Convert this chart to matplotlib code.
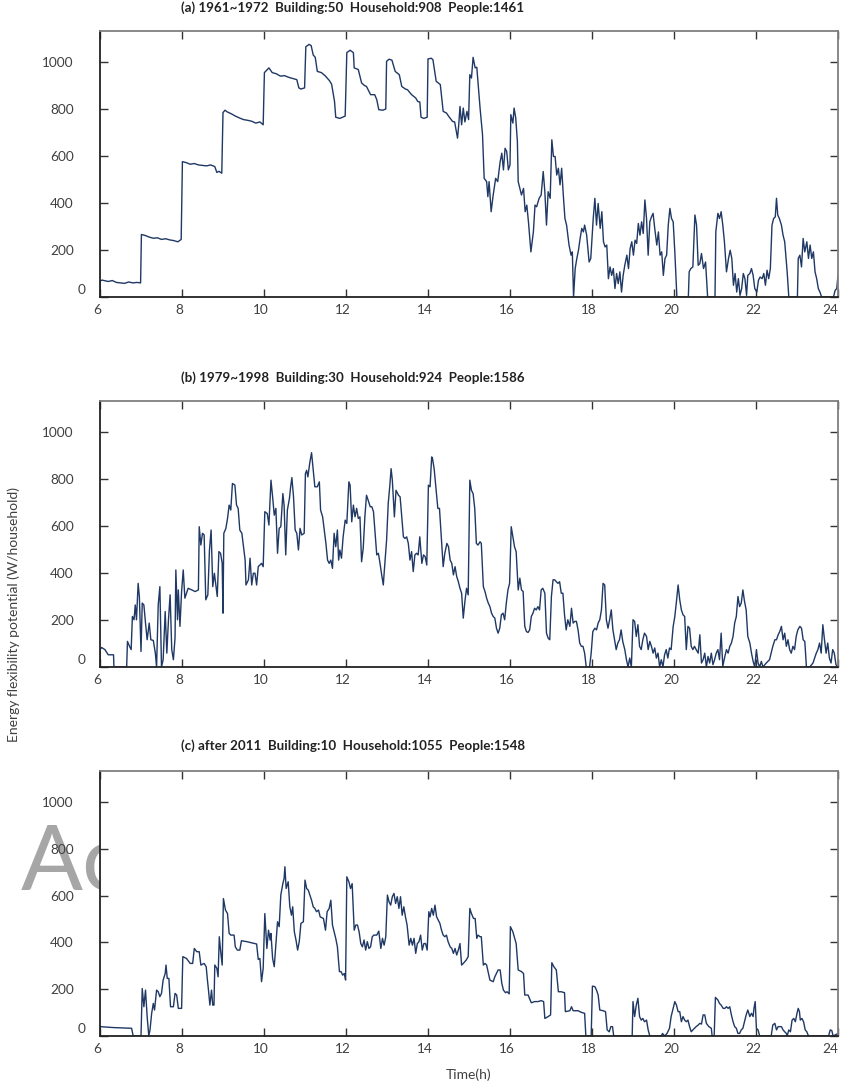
import matplotlib
matplotlib.use('Agg')
import matplotlib.pyplot as plt
from matplotlib.transforms import ScaledTranslation

# ---------------- data ----------------
titles = ['(a) 1961~1972  Building:50  Household:908  People:1461',
          '(b) 1979~1998  Building:30  Household:924  People:1586',
          '(c) after 2011  Building:10  Household:1055  People:1548']

hours_a = [6.0, 6.0, 6.05, 6.1, 6.2, 6.3, 6.4, 6.5, 6.6, 6.7, 6.8, 6.9, 6.99,
           7.01, 7.1, 7.2, 7.3, 7.4, 7.5, 7.6, 7.7, 7.8, 7.9, 7.98,
           8.01, 8.1, 8.2, 8.3, 8.4, 8.5, 8.6, 8.7, 8.8, 8.85, 8.9, 8.97,
           9.0, 9.05, 9.1, 9.2, 9.3, 9.4, 9.5, 9.6, 9.7, 9.8, 9.9, 9.98,
           10.01, 10.08, 10.12, 10.2, 10.3, 10.4, 10.5, 10.6, 10.7, 10.8, 10.85, 10.9, 10.99,
           11.02, 11.1, 11.15, 11.2, 11.25, 11.3, 11.4, 11.5, 11.6, 11.65, 11.72, 11.75, 11.85, 11.98,
           12.02, 12.1, 12.18, 12.2, 12.3, 12.38, 12.45, 12.5, 12.6, 12.7, 12.75, 12.8, 12.9, 12.97,
           12.99, 13.05, 13.12, 13.2, 13.3, 13.36, 13.45, 13.5, 13.6, 13.7, 13.75, 13.8, 13.83, 13.9, 13.98,
           14.0, 14.08, 14.12, 14.2, 14.3, 14.37, 14.45, 14.5, 14.6, 14.65, 14.72, 14.75, 14.78, 14.82, 14.86, 14.9, 14.95, 14.99,
           15.02, 15.06, 15.1, 15.15, 15.19, 15.23, 15.27, 15.33, 15.37, 15.43, 15.46, 15.49, 15.54, 15.59, 15.65, 15.7, 15.76, 15.8, 15.84, 15.88, 15.92, 15.96, 16.0,
           16.02, 16.07, 16.1, 16.14, 16.18, 16.2, 16.24, 16.28, 16.33, 16.37, 16.41, 16.45, 16.51, 16.57, 16.61, 16.65, 16.71, 16.76, 16.81, 16.85, 16.89, 16.93, 16.98,
           17.02, 17.06, 17.1, 17.14, 17.18, 17.22, 17.26, 17.3, 17.34, 17.38, 17.44, 17.49, 17.52, 17.55, 17.59, 17.63, 17.67, 17.71, 17.75, 17.79, 17.82, 17.87, 17.93, 17.97,
           18.03, 18.07, 18.11, 18.15, 18.2, 18.24, 18.28, 18.32, 18.36, 18.4, 18.44, 18.48, 18.52, 18.56, 18.6, 18.64, 18.68, 18.72, 18.76, 18.8, 18.85, 18.89, 18.93, 18.97,
           19.01, 19.05, 19.09, 19.13, 19.17, 19.21, 19.25, 19.29, 19.33, 19.37, 19.41, 19.45, 19.49, 19.53, 19.58, 19.62, 19.66, 19.7, 19.74, 19.78, 19.82, 19.86, 19.9, 19.94, 19.98,
           20.02, 20.07, 20.35, 20.37, 20.41, 20.46, 20.51, 20.55, 20.59, 20.63, 20.67, 20.72, 20.77, 20.82, 21.0,
           21.02, 21.07, 21.11, 21.15, 21.19, 21.23, 21.28, 21.33, 21.37, 21.41, 21.45, 21.49, 21.53, 21.57, 21.61, 21.65, 21.69, 21.73, 21.77, 21.8, 21.85, 21.89, 21.93, 21.97,
           22.02, 22.06, 22.1, 22.15, 22.19, 22.23, 22.27, 22.31, 22.35, 22.39, 22.43, 22.47, 22.5, 22.53, 22.57, 22.62, 22.66, 22.7, 22.76, 22.8, 23.01,
           23.03, 23.07, 23.11, 23.15, 23.19, 23.24, 23.28, 23.32, 23.36, 23.4, 23.44, 23.48, 23.52, 23.56, 23.6, 23.89, 23.93, 23.97, 24.0]
power_a = [30, 68, 72, 70, 66, 70, 62, 60, 58, 64, 60, 62, 60,
           266, 262, 255, 250, 252, 245, 248, 243, 240, 235, 245,
           576, 572, 565, 568, 562, 560, 558, 562, 555, 530, 535, 527,
           785, 795, 788, 780, 770, 762, 755, 752, 748, 740, 745, 733,
           955, 968, 975, 955, 950, 940, 942, 935, 930, 925, 890, 885, 890,
           1065, 1075, 1070, 1030, 1020, 960, 955, 940, 920, 905, 832, 765, 760, 770,
           1040, 1050, 1040, 975, 968, 911, 900, 896, 861, 861, 840, 797, 795, 800,
           1003, 1012, 1008, 960, 946, 896, 885, 882, 861, 847, 832, 830, 765, 760, 765,
           1013, 1016, 1010, 918, 904, 790, 783, 770, 747, 745, 676, 733, 811, 733, 804, 745, 790, 755,
           946, 932, 1020, 975, 978, 889, 804, 690, 505, 491, 427, 491, 363, 434, 505, 491, 576, 612, 541, 633, 619, 541, 562,
           776, 740, 804, 761, 662, 491, 462, 434, 462, 363, 391, 320, 192, 277, 391, 384, 420, 434, 534, 448, 306, 448, 420,
           669, 598, 598, 519, 548, 477, 548, 434, 334, 306, 221, 178, 192, 0, 121, 164, 199, 249, 292, 277, 306, 263, 149, 164,
           334, 420, 306, 398, 292, 363, 235, 213, 221, 78, 128, 92, 121, 36, 100, 57, 107, 21, 92, 135, 178, 121, 206, 235,
           178, 242, 228, 313, 263, 320, 270, 413, 334, 178, 320, 341, 356, 292, 221, 277, 178, 192, 92, 164, 178, 306, 377, 334, 320,
           192, 0, 0, 107, 121, 128, 349, 306, 135, 142, 185, 121, 149, 0, 0,
           277, 356, 334, 363, 306, 235, 107, 164, 199, 164, 50, 100, 21, 78, 7, 36, 100, 78, 7, 92, 100, 121, 92, 36,
           21, 71, 85, 78, 100, 50, 114, 78, 121, 306, 334, 341, 420, 349, 334, 306, 263, 235, 107, 0, 0,
           164, 178, 128, 249, 192, 235, 164, 221, 164, 192, 107, 78, 36, 21, 0, 0, 28, 36, 92]

hours_b = [6.0, 6.0, 6.04, 6.12, 6.2, 6.33, 6.34, 6.65, 6.67, 6.72, 6.76, 6.79, 6.83, 6.86, 6.89, 6.93, 6.96, 7.0,
           7.03, 7.07, 7.11, 7.15, 7.2, 7.24, 7.3, 7.35, 7.38, 7.42, 7.46, 7.5, 7.54, 7.59, 7.63, 7.67, 7.71, 7.75, 7.79, 7.83, 7.85, 7.89, 7.91, 7.95, 7.99,
           8.03, 8.07, 8.15, 8.24, 8.32, 8.4, 8.42, 8.46, 8.5, 8.54, 8.58, 8.63, 8.67, 8.71, 8.75, 8.79, 8.83, 8.86, 8.9, 8.94, 8.98,
           9.0, 9.02, 9.07, 9.11, 9.15, 9.19, 9.23, 9.29, 9.33, 9.37, 9.41, 9.46, 9.5, 9.54, 9.56, 9.62, 9.66, 9.7, 9.74, 9.78, 9.82, 9.86, 9.9, 9.94, 9.98,
           10.02, 10.08, 10.12, 10.17, 10.21, 10.25, 10.29, 10.33, 10.37, 10.41, 10.46, 10.49, 10.53, 10.57, 10.62, 10.65, 10.68, 10.72, 10.76, 10.8, 10.84, 10.88, 10.92, 10.98,
           11.01, 11.04, 11.07, 11.12, 11.16, 11.2, 11.24, 11.3, 11.35, 11.38, 11.43, 11.47, 11.51, 11.55, 11.59, 11.63, 11.67, 11.71, 11.75, 11.79, 11.82, 11.85, 11.89, 11.93, 11.98,
           12.02, 12.07, 12.1, 12.14, 12.18, 12.22, 12.26, 12.3, 12.34, 12.38, 12.42, 12.46, 12.5, 12.54, 12.59, 12.63, 12.67, 12.71, 12.75, 12.79, 12.83, 12.87, 12.91, 12.93, 12.99,
           13.03, 13.07, 13.1, 13.13, 13.18, 13.22, 13.28, 13.32, 13.36, 13.4, 13.44, 13.48, 13.52, 13.56, 13.6, 13.64, 13.68, 13.72, 13.76, 13.8, 13.85, 13.89, 13.93, 13.97,
           14.01, 14.05, 14.09, 14.11, 14.15, 14.2, 14.24, 14.28, 14.33, 14.37, 14.41, 14.46, 14.5, 14.54, 14.58, 14.62, 14.66, 14.7, 14.74, 14.78, 14.82, 14.86, 14.9, 14.94, 14.98,
           15.02, 15.06, 15.1, 15.14, 15.18, 15.22, 15.27, 15.3, 15.35, 15.39, 15.43, 15.47, 15.51, 15.55, 15.59, 15.63, 15.67, 15.71, 15.75, 15.79, 15.83, 15.87, 15.91, 15.95, 15.99,
           16.03, 16.07, 16.11, 16.15, 16.2, 16.24, 16.28, 16.32, 16.36, 16.4, 16.44, 16.48, 16.52, 16.56, 16.6, 16.64, 16.68, 16.72, 16.76, 16.8, 16.85, 16.89, 16.93, 16.97,
           17.01, 17.05, 17.09, 17.13, 17.17, 17.21, 17.25, 17.29, 17.33, 17.37, 17.41, 17.46, 17.5, 17.54, 17.58, 17.62, 17.66, 17.7, 17.74, 17.78, 17.82, 17.86, 17.94, 17.98,
           18.02, 18.07, 18.11, 18.15, 18.19, 18.23, 18.27, 18.31, 18.35, 18.39, 18.43, 18.47, 18.51, 18.55, 18.59, 18.63, 18.67, 18.71, 18.75, 18.8, 18.84, 18.88, 18.92, 18.96,
           19.0, 19.04, 19.08, 19.12, 19.16, 19.2, 19.24, 19.28, 19.33, 19.37, 19.41, 19.45, 19.49, 19.53, 19.57, 19.61, 19.65, 19.69, 19.73, 19.77, 19.81, 19.85, 19.89, 19.93, 19.98,
           20.02, 20.06, 20.1, 20.14, 20.18, 20.22, 20.26, 20.3, 20.34, 20.38, 20.42, 20.46, 20.5, 20.54, 20.59, 20.63, 20.67, 20.71, 20.75, 20.79, 20.83, 20.87, 20.91, 20.95, 20.99,
           21.03, 21.07, 21.11, 21.15, 21.19, 21.24, 21.28, 21.32, 21.36, 21.4, 21.44, 21.48, 21.52, 21.56, 21.6, 21.64, 21.68, 21.72, 21.76, 21.8, 21.85, 21.89, 21.93, 21.97,
           22.01, 22.05, 22.09, 22.13, 22.17, 22.25, 22.33, 22.37, 22.41, 22.46, 22.5, 22.54, 22.58, 22.62, 22.66, 22.7, 22.74, 22.78, 22.82, 22.86, 22.9, 22.94, 22.98,
           23.02, 23.07, 23.11, 23.15, 23.19, 23.23, 23.31, 23.39, 23.43, 23.47, 23.51, 23.55, 23.59, 23.63, 23.67, 23.71, 23.75, 23.79, 23.83, 23.87, 23.91, 23.95, 24.0]
power_b = [0, 74, 83, 74, 52, 52, 0, 0, 109, 88, 74, 215, 201, 264, 201, 356, 300, 66,
           272, 264, 187, 116, 187, 116, 113, 59, 0, 264, 342, 0, 31, 236, 59, 201, 307, 74, 31, 123, 413, 201, 328, 173, 321,
           413, 293, 335, 328, 321, 328, 597, 519, 569, 562, 286, 307, 498, 583, 342, 399, 342, 300, 491, 484, 441,
           229, 569, 590, 632, 689, 668, 781, 774, 689, 675, 583, 569, 512, 455, 349, 371, 463, 349, 399, 399, 349, 427, 434, 441, 427,
           661, 653, 604, 795, 724, 646, 675, 484, 590, 597, 738, 689, 477, 668, 717, 767, 806, 724, 583, 569, 498, 590, 562, 569,
           823, 837, 809, 873, 912, 837, 767, 767, 788, 668, 639, 583, 526, 455, 441, 455, 420, 569, 512, 583, 455, 498, 463, 554, 625,
           611, 788, 774, 618, 689, 639, 675, 632, 639, 448, 505, 639, 731, 710, 682, 682, 661, 569, 477, 484, 441, 392, 349, 399, 540,
           696, 774, 844, 795, 639, 752, 731, 724, 639, 554, 547, 554, 526, 455, 491, 406, 477, 484, 477, 554, 441, 477, 470, 434,
           774, 767, 894, 887, 844, 752, 675, 675, 533, 427, 484, 526, 512, 455, 441, 392, 427, 385, 363, 335, 314, 208, 279, 335, 307,
           795, 752, 738, 675, 526, 519, 533, 526, 342, 321, 293, 272, 257, 229, 215, 208, 165, 144, 165, 222, 229, 201, 272, 328, 356,
           597, 554, 512, 491, 328, 378, 328, 321, 173, 151, 147, 158, 215, 229, 250, 243, 257, 243, 328, 335, 314, 144, 123, 116,
           300, 371, 371, 363, 356, 363, 314, 314, 222, 158, 201, 173, 250, 187, 194, 194, 158, 102, 88, 88, 59, 0, 0, 59,
           151, 165, 158, 187, 201, 243, 356, 349, 201, 165, 201, 243, 158, 116, 74, 102, 116, 158, 109, 74, 31, 0, 38, 0,
           201, 194, 130, 180, 88, 74, 116, 144, 130, 74, 109, 88, 59, 81, 38, 59, 0, 31, 0, 52, 74, 38, 81, 74, 173,
           215, 279, 349, 286, 243, 222, 215, 74, 173, 165, 88, 74, 88, 74, 59, 137, 17, 31, 59, 0, 45, 17, 59, 10, 31,
           59, 74, 31, 144, 3, 45, 74, 59, 88, 102, 130, 187, 215, 300, 257, 272, 328, 279, 243, 130, 102, 59, 24, 0,
           74, 17, 0, 24, 0, 17, 31, 59, 88, 116, 116, 137, 151, 173, 116, 144, 88, 116, 74, 59, 88, 74, 130,
           158, 173, 165, 116, 109, 0, 0, 17, 38, 59, 74, 102, 59, 180, 116, 59, 102, 38, 17, 74, 59, 10, 0]

hours_c = [6.0, 6.0, 6.33, 6.77, 6.81, 7.0,
           7.03, 7.07, 7.11, 7.15, 7.19, 7.22, 7.26, 7.3, 7.33, 7.38, 7.42, 7.46, 7.5, 7.54, 7.59, 7.61, 7.64, 7.68, 7.72, 7.79, 7.83, 7.87, 7.91, 7.99,
           8.02, 8.11, 8.2, 8.26, 8.3, 8.36, 8.42, 8.46, 8.54, 8.59, 8.62, 8.65, 8.68, 8.72, 8.75, 8.78, 8.8, 8.85, 8.88, 8.91, 8.94, 8.98,
           9.01, 9.06, 9.11, 9.15, 9.19, 9.27, 9.3, 9.35, 9.41, 9.45, 9.58, 9.7, 9.82, 9.86, 9.9, 9.94, 9.98,
           10.02, 10.07, 10.11, 10.15, 10.17, 10.21, 10.25, 10.29, 10.33, 10.37, 10.41, 10.46, 10.49, 10.51, 10.54, 10.59, 10.63, 10.67, 10.7, 10.74, 10.78, 10.82, 10.86, 10.9, 10.96,
           11.0, 11.04, 11.08, 11.12, 11.16, 11.2, 11.24, 11.28, 11.33, 11.37, 11.45, 11.5, 11.54, 11.59, 11.63, 11.67, 11.71, 11.75, 11.79, 11.84, 11.88, 11.92, 11.96, 11.99,
           12.02, 12.07, 12.11, 12.15, 12.2, 12.24, 12.28, 12.32, 12.36, 12.4, 12.44, 12.48, 12.52, 12.56, 12.6, 12.64, 12.68, 12.75, 12.8, 12.85, 12.89, 12.93, 12.97,
           13.01, 13.05, 13.09, 13.13, 13.17, 13.21, 13.25, 13.29, 13.33, 13.37, 13.41, 13.45, 13.49, 13.54, 13.58, 13.62, 13.66, 13.7, 13.74, 13.78, 13.82, 13.86, 13.9, 13.94, 13.98,
           14.02, 14.05, 14.09, 14.13, 14.17, 14.21, 14.25, 14.29, 14.33, 14.37, 14.41, 14.45, 14.49, 14.54, 14.58, 14.62, 14.66, 14.7, 14.74, 14.78, 14.82, 14.86, 14.93, 14.98,
           15.02, 15.06, 15.11, 15.15, 15.19, 15.22, 15.27, 15.3, 15.35, 15.39, 15.43, 15.51, 15.59, 15.63, 15.71, 15.76, 15.8, 15.84, 15.89, 15.93, 15.98,
           16.01, 16.07, 16.15, 16.2, 16.28, 16.33, 16.36, 16.44, 16.52, 16.6, 16.68, 16.76, 16.82, 16.85, 16.93, 16.99,
           17.02, 17.07, 17.13, 17.18, 17.25, 17.33, 17.35, 17.46, 17.5, 17.54, 17.66, 17.74, 17.82, 17.85, 17.98,
           18.01, 18.07, 18.11, 18.15, 18.19, 18.27, 18.33, 18.37, 18.42, 18.46, 18.5, 18.53, 18.98,
           19.0, 19.04, 19.08, 19.12, 19.16, 19.2, 19.24, 19.28, 19.33, 19.37, 19.41, 19.69, 19.72, 19.77, 19.83, 19.89, 19.93, 19.98,
           20.02, 20.06, 20.1, 20.14, 20.18, 20.22, 20.26, 20.3, 20.34, 20.38, 20.42, 20.46, 20.5, 20.54, 20.59, 20.63, 20.67, 20.71, 20.75, 20.79, 20.85, 20.91, 20.93, 20.98,
           21.01, 21.07, 21.11, 21.15, 21.2, 21.24, 21.28, 21.32, 21.36, 21.4, 21.44, 21.48, 21.52, 21.56, 21.6, 21.64, 21.68, 21.72, 21.76, 21.8, 21.85, 21.89, 21.93, 21.95, 21.98,
           22.01, 22.05, 22.09, 22.37, 22.41, 22.46, 22.5, 22.54, 22.62, 22.66, 22.7, 22.74, 22.76, 22.8, 22.84, 22.88, 22.92, 22.96, 23.0,
           23.03, 23.06, 23.08, 23.12, 23.16, 23.2, 23.24, 23.28, 23.77, 23.81, 23.85, 23.88, 24.0]
power_c = [0, 40, 36, 33, 0, 0,
           203, 125, 196, 83, 0, 26, 97, 139, 111, 196, 189, 168, 182, 239, 267, 303, 246, 246, 125, 125, 182, 175, 118, 118,
           339, 331, 310, 310, 374, 360, 360, 303, 310, 296, 239, 189, 132, 196, 132, 132, 303, 289, 253, 424, 367, 303,
           587, 538, 523, 438, 431, 431, 381, 367, 367, 407, 403, 398, 393, 327, 331, 232, 289,
           523, 374, 452, 410, 438, 331, 296, 395, 488, 467, 602, 651, 673, 723, 630, 659, 552, 516, 552, 445, 410, 367, 403, 481, 488,
           666, 630, 623, 602, 580, 552, 545, 531, 538, 509, 502, 452, 531, 545, 580, 474, 445, 417, 381, 275, 275, 260, 267, 239,
           680, 659, 630, 651, 452, 474, 474, 445, 395, 381, 410, 367, 403, 374, 381, 424, 431, 431, 448, 374, 417, 388, 424,
           602, 573, 559, 595, 609, 566, 595, 545, 595, 516, 552, 509, 474, 388, 417, 388, 417, 353, 395, 403, 431, 367, 395, 395, 367,
           531, 509, 545, 516, 559, 509, 495, 481, 452, 431, 424, 431, 403, 381, 374, 353, 374, 346, 367, 395, 303, 310, 324, 339,
           545, 523, 502, 502, 417, 431, 424, 424, 303, 310, 303, 239, 232, 253, 282, 282, 225, 196, 185, 189, 180,
           467, 445, 395, 282, 275, 267, 175, 175, 142, 147, 147, 151, 147, 75, 83, 90,
           313, 296, 282, 189, 189, 185, 104, 108, 125, 108, 108, 101, 97, 0, 0,
           213, 211, 196, 175, 111, 108, 104, 26, 18, 40, 40, 0, 0,
           147, 83, 132, 161, 83, 68, 75, 61, 68, 26, 0, 0, 11, 0, 11, 33, 83, 118,
           147, 132, 104, 104, 61, 83, 68, 61, 68, 40, 18, 26, 33, 40, 47, 54, 51, 90, 90, 54, 40, 33, 0, 0,
           165, 154, 139, 132, 118, 118, 125, 118, 125, 90, 61, 40, 33, 11, 11, 26, 33, 61, 90, 111, 83, 97, 83, 118, 147,
           33, 26, 0, 0, 47, 54, 26, 40, 40, 26, 18, 11, 0, 26, 18, 68, 75, 61, 97,
           118, 104, 68, 75, 61, 26, 18, 0, 0, 26, 23, 0, 11]

x_ticks = [6, 8, 10, 12, 14, 16, 18, 20, 22, 24]
y_ticks = [0, 200, 400, 600, 800, 1000]

# ---------------- figure ----------------
plt.rcParams['font.family'] = ['Lato', 'DejaVu Sans']
W, H = 841, 1088
fig = plt.figure(figsize=(W / 100, H / 100), dpi=100)

line_col = '#1f3864'
txt_col = '#404040'

# axes boxes in pixels: (top, bottom)
boxes = [(31, 297), (401, 667), (771, 1036)]
title_y = [8, 378, 746]
series = [(hours_a, power_a), (hours_b, power_b), (hours_c, power_c)]

# watermark behind the axes
fig.text(21 / W, 1 - 889 / H, 'Ac', fontsize=66, color='#a6a6a6',
         ha='left', va='baseline', zorder=-1)

for i, ((top, bot), (hrs, pw)) in enumerate(zip(boxes, series)):
    ax = fig.add_axes([100 / W, 1 - bot / H, 738 / W, (bot - top) / H])
    ax.plot(hrs, pw, color=line_col, lw=1.0)
    ax.set_xlim(6, 24)
    ax.set_ylim(0, 1132)
    ax.set_xticks(x_ticks)
    ax.set_yticks(y_ticks)
    ax.tick_params(direction='in', top=True, right=True, length=5.5, width=1,
                   color='#333333', labelsize=9.8, labelcolor=txt_col)
    ax.tick_params(axis='y', pad=19)
    ax.tick_params(axis='x', pad=5)
    for s in ['left', 'bottom']:
        ax.spines[s].set_color('#222222')
        ax.spines[s].set_linewidth(1.3)
    for s in ['top', 'right']:
        ax.spines[s].set_color('#7f7f7f')
        ax.spines[s].set_linewidth(1.3)
    # the zero label sits a little higher and closer to the axis
    lab0 = ax.yaxis.get_major_ticks()[0].label1
    lab0.set_transform(lab0.get_transform() + ScaledTranslation(12 / 100, 8 / 100, fig.dpi_scale_trans))
    # x labels sit slightly left of their ticks
    xt = ax.xaxis.get_major_ticks()
    for k, t in enumerate(xt):
        dx = -8 if k == len(xt) - 1 else -3
        t.label1.set_transform(t.label1.get_transform() + ScaledTranslation(dx / 100, 0, fig.dpi_scale_trans))
    fig.text(353 / W, 1 - title_y[i] / H, titles[i], ha='center', va='center',
             fontsize=9.6, fontweight='bold', color='#222222')

fig.text(14 / W, 1 - 614 / H, 'Energy flexibility potential (W/household)',
         rotation=90, ha='center', va='center', fontsize=10, color=txt_col)
fig.text(469 / W, 1 - 1075 / H, 'Time(h)', ha='center', va='center',
         fontsize=10, color=txt_col)

fig.savefig('out.png', dpi=100)
